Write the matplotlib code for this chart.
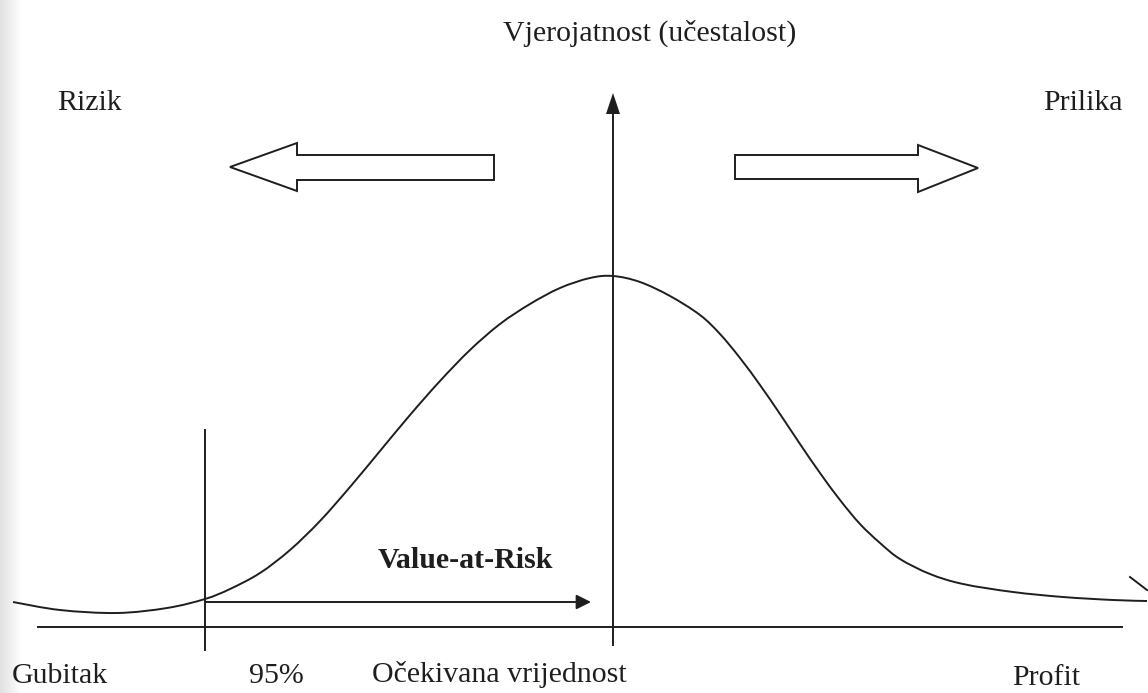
import matplotlib
matplotlib.use("Agg")
from matplotlib import pyplot as plt
from matplotlib.patches import Polygon, PathPatch
from matplotlib.path import Path
import numpy as np

# distribution curve (x in px, height above the axis line in px)
curve_x = [13, 60, 117, 167, 205, 230, 260, 290, 320, 350, 380, 410, 440, 470,
           500, 530, 560, 590, 613, 640, 670, 700, 720, 740, 760, 780, 800, 820, 840,
           860, 880, 900, 930, 963, 1013, 1063, 1113, 1147]
curve_h = [25, 17, 14, 19, 28, 38, 54, 77, 106, 140, 176, 212, 246, 277,
           303, 323, 339, 349, 351, 345, 331, 312, 293, 269, 242, 213, 183, 154, 127,
           103, 84, 68, 53, 43, 35, 30, 27, 26]

var_x = 205        # 95% quantile position
mean_x = 613       # expected value

labels_bottom = ["Gubitak", "95%", "Očekivana vrijednost", "Profit"]
label_top = "Vjerojatnost (učestalost)"
label_left = "Rizik"
label_right = "Prilika"
label_var = "Value-at-Risk"

base = 627  # pixel row of the horizontal axis
ink = "#1e1e1e"
lw = 1.4
fs = 21.5
plt.rcParams["font.family"] = ["Liberation Serif", "DejaVu Serif"]

fig = plt.figure(figsize=(11.48, 6.93), dpi=100)
ax = fig.add_axes([0, 0, 1, 1])
ax.set_xlim(0, 1148)
ax.set_ylim(base - 693, base)
ax.axis("off")

# light scanner shadow on the left edge
grad = np.linspace(0.88, 1.0, 40).reshape(1, -1)
ax.imshow(grad, extent=[0, 22, base - 693, base], cmap="gray", vmin=0, vmax=1,
          aspect="auto", zorder=0)

# axes
ax.plot([38, 1122], [0, 0], color=ink, lw=lw)
ax.plot([mean_x, mean_x], [-18, 515], color=ink, lw=lw)
ax.add_patch(Polygon([[mean_x - 7, 513], [mean_x + 7, 513], [mean_x, 534]],
                     closed=True, color=ink, lw=0))

# curve drawn as smooth bezier segments through the read points
pts = np.column_stack([curve_x, curve_h]).astype(float)
verts = [pts[0]]
codes = [Path.MOVETO]
for i in range(len(pts) - 1):
    p0 = pts[max(i - 1, 0)]
    p1 = pts[i]
    p2 = pts[i + 1]
    p3 = pts[min(i + 2, len(pts) - 1)]
    verts += [p1 + (p2 - p0) / 6, p2 - (p3 - p1) / 6, p2]
    codes += [Path.CURVE4] * 3
ax.add_patch(PathPatch(Path(verts, codes), facecolor="none", edgecolor=ink, lw=lw))
ax.plot([1130, 1147], [base - 577, base - 590], color=ink, lw=lw)

# VaR line and arrow
ax.plot([var_x, var_x], [base - 430, base - 650], color=ink, lw=lw)
ax.annotate("", xy=(591, 25), xytext=(var_x, 25),
            arrowprops=dict(arrowstyle="-|>", color=ink, lw=lw,
                            mutation_scale=22, shrinkA=0, shrinkB=0))
ax.text(465, base - 560, label_var, fontsize=fs, fontweight="bold",
        ha="center", va="center", color=ink)

# hollow arrows
left_arrow = [[230, 167], [297, 143], [297, 155], [494, 155], [494, 180],
              [297, 180], [297, 191]]
right_arrow = [[735, 155], [918, 155], [918, 145], [978, 168], [918, 192],
               [918, 179], [735, 179]]
for shape in (left_arrow, right_arrow):
    ax.add_patch(Polygon([[px, base - py] for px, py in shape], closed=True,
                         facecolor="white", edgecolor=ink, lw=lw))

# labels
ax.text(650, base - 33, label_top, fontsize=fs, ha="center", va="center", color=ink)
ax.text(57, base - 103, label_left, fontsize=fs, ha="left", va="center", color=ink)
ax.text(1123, base - 103, label_right, fontsize=fs, ha="right", va="center", color=ink)
ax.text(12, base - 676, labels_bottom[0], fontsize=fs, ha="left", va="center", color=ink)
ax.text(276, base - 676, labels_bottom[1], fontsize=fs, ha="center", va="center", color=ink)
ax.text(499, base - 674, labels_bottom[2], fontsize=fs, ha="center", va="center", color=ink)
ax.text(1080, base - 678, labels_bottom[3], fontsize=fs, ha="right", va="center", color=ink)

fig.savefig("out.png", dpi=100)
